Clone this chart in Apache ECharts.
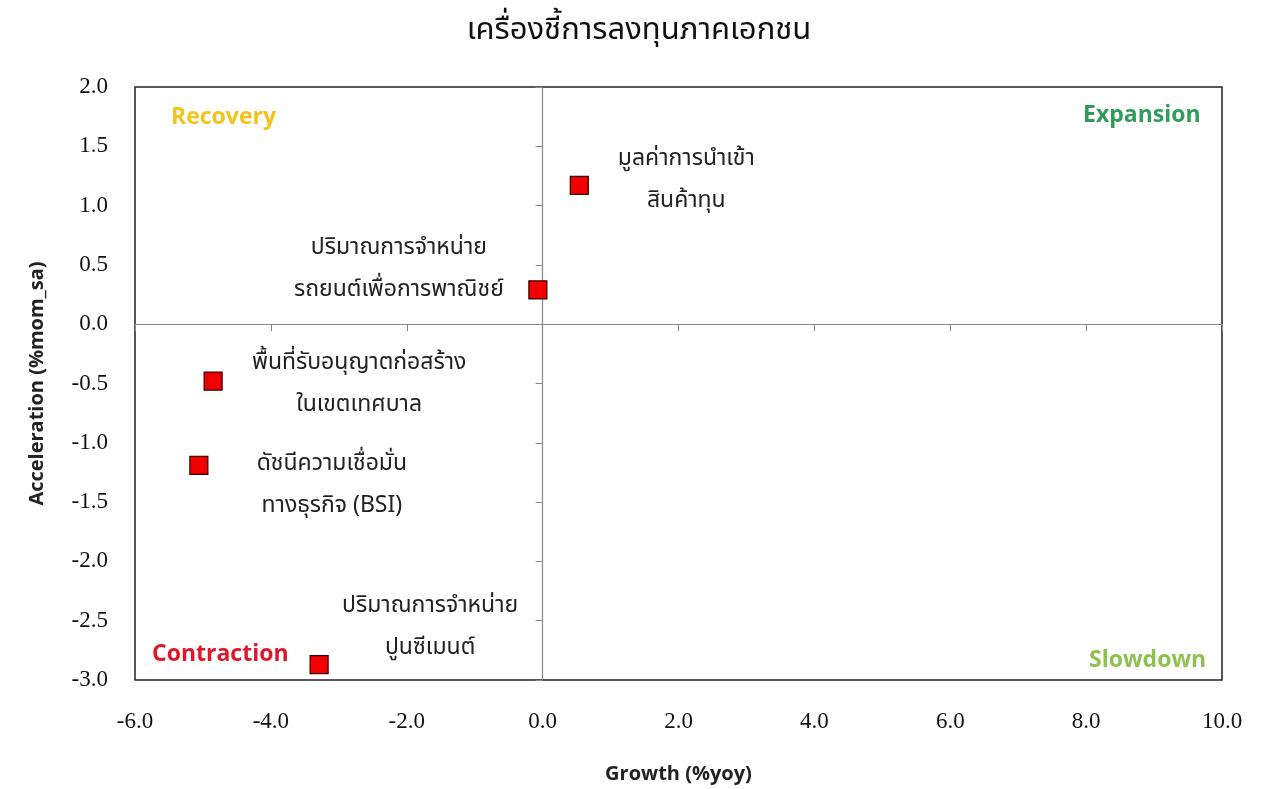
<!DOCTYPE html>
<html>
<head>
<meta charset="utf-8">
<script src="https://cdn.jsdelivr.net/npm/echarts@6/dist/echarts.min.js"></script>
<style>
  html, body { margin: 0; padding: 0; background: #fff; }
  #chart_box { width: 1278px; height: 789px; }
</style>
</head>
<body>
<div id="chart_box"></div>
<script>
// indicator names (Thai), growth %yoy and acceleration %mom_sa
var names = [
  "มูลค่าการนำเข้า\nสินค้าทุน",
  "ปริมาณการจำหน่าย\nรถยนต์เพื่อการพาณิชย์",
  "พื้นที่รับอนุญาตก่อสร้าง\nในเขตเทศบาล",
  "ดัชนีความเชื่อมั่น\nทางธุรกิจ (BSI)",
  "ปริมาณการจำหน่าย\nปูนซีเมนต์"
];
var growth = [0.54, -0.07, -4.85, -5.06, -3.29];
var accel = [1.17, 0.29, -0.48, -1.19, -2.87];

var xTicks = [-6, -4, -2, 0, 2, 4, 6, 8, 10];
var yTicks = [-3, -2.5, -2, -1.5, -1, -0.5, 0, 0.5, 1, 1.5, 2];

var quadrants = ["Recovery", "Expansion", "Contraction", "Slowdown"];

// label offsets for each point (layout only)
var labelOffsets = [[107, -4], [-139, -19], [146, 4], [133, 21], [111, -36]];

var thaiFont = "'Noto Sans Thai', 'Noto Sans Thai Looped', Tahoma, 'Noto Sans', sans-serif";
var tickFont = "'Liberation Serif', 'DejaVu Serif', serif";
var nameFont = "'Open Sans', 'Noto Sans', sans-serif";

var mychart = echarts.init(document.getElementById("chart_box"));

var pts = names.map(function (n, i) {
  return {
    name: n,
    value: [growth[i], accel[i]],
    label: { offset: labelOffsets[i] }
  };
});

function fmt(v) { return v.toFixed(1); }

var option = {
  backgroundColor: "#fff",
  animation: false,
  title: {
    text: "เครื่องชี้การลงทุนภาคเอกชน",
    left: "center",
    top: 12,
    textStyle: { fontFamily: thaiFont, fontSize: 31, fontWeight: "normal", color: "#111" }
  },
  grid: {
    left: 135, right: 56, top: 87, bottom: 108,
    show: true, borderColor: "#222", borderWidth: 1.5, backgroundColor: "#fff"
  },
  xAxis: [
    {
      type: "value",
      min: xTicks[0], max: xTicks[xTicks.length - 1], interval: 2,
      position: "bottom",
      name: "Growth (%yoy)",
      nameLocation: "middle",
      nameGap: 84,
      nameTextStyle: { fontFamily: nameFont, fontWeight: "bold", fontSize: 20, color: "#222" },
      axisLine: { show: false, onZero: false },
      axisTick: { show: false },
      splitLine: { show: false },
      axisLabel: { formatter: fmt, margin: 30, fontFamily: tickFont, fontSize: 23, color: "#111" }
    },
    {
      // zero line with ticks
      type: "value",
      min: xTicks[0], max: xTicks[xTicks.length - 1], interval: 2,
      position: "bottom",
      axisLine: { show: true, onZero: true, onZeroAxisIndex: 0, lineStyle: { color: "#888", width: 1.2 } },
      axisTick: { show: true, length: 7, lineStyle: { color: "#888" } },
      axisLabel: { show: false },
      splitLine: { show: false }
    }
  ],
  yAxis: [
    {
      type: "value",
      min: yTicks[0], max: yTicks[yTicks.length - 1], interval: 0.5,
      position: "left",
      name: "Acceleration (%mom_sa)",
      nameLocation: "middle",
      nameGap: 88,
      nameRotate: 90,
      nameTextStyle: { fontFamily: nameFont, fontWeight: "bold", fontSize: 20, color: "#222" },
      axisLine: { show: false, onZero: false },
      axisTick: { show: false },
      splitLine: { show: false },
      axisLabel: { formatter: fmt, margin: 27, fontFamily: tickFont, fontSize: 23, color: "#111" }
    },
    {
      type: "value",
      min: yTicks[0], max: yTicks[yTicks.length - 1], interval: 0.5,
      position: "left",
      axisLine: { show: true, onZero: true, onZeroAxisIndex: 0, lineStyle: { color: "#888", width: 1.2 } },
      axisTick: { show: true, length: 7, lineStyle: { color: "#888" } },
      axisLabel: { show: false },
      splitLine: { show: false }
    }
  ],
  graphic: [
    { type: "text", x: 171, y: 117, style: { text: quadrants[0], fill: "#f2c318", font: "bold 23px " + nameFont, verticalAlign: "middle" } },
    { type: "text", x: 1083, y: 115, style: { text: quadrants[1], fill: "#2e9d5a", font: "bold 23px " + nameFont, verticalAlign: "middle" } },
    { type: "text", x: 152, y: 654, style: { text: quadrants[2], fill: "#e0162b", font: "bold 23px " + nameFont, verticalAlign: "middle" } },
    { type: "text", x: 1089, y: 660, style: { text: quadrants[3], fill: "#8fc052", font: "bold 23px " + nameFont, verticalAlign: "middle" } }
  ],
  series: [
    {
      type: "scatter",
      xAxisIndex: 0,
      yAxisIndex: 0,
      symbol: "rect",
      symbolSize: 18,
      itemStyle: { color: "#f00000", opacity: 1, borderColor: "#3a0000", borderWidth: 1.2 },
      label: {
        show: true,
        formatter: "{b}",
        position: "inside",
        align: "center",
        verticalAlign: "middle",
        lineHeight: 42,
        fontFamily: thaiFont,
        fontSize: 23,
        color: "#222"
      },
      data: pts,
      z: 5
    }
  ]
};

mychart.setOption(option);
</script>
</body>
</html>
